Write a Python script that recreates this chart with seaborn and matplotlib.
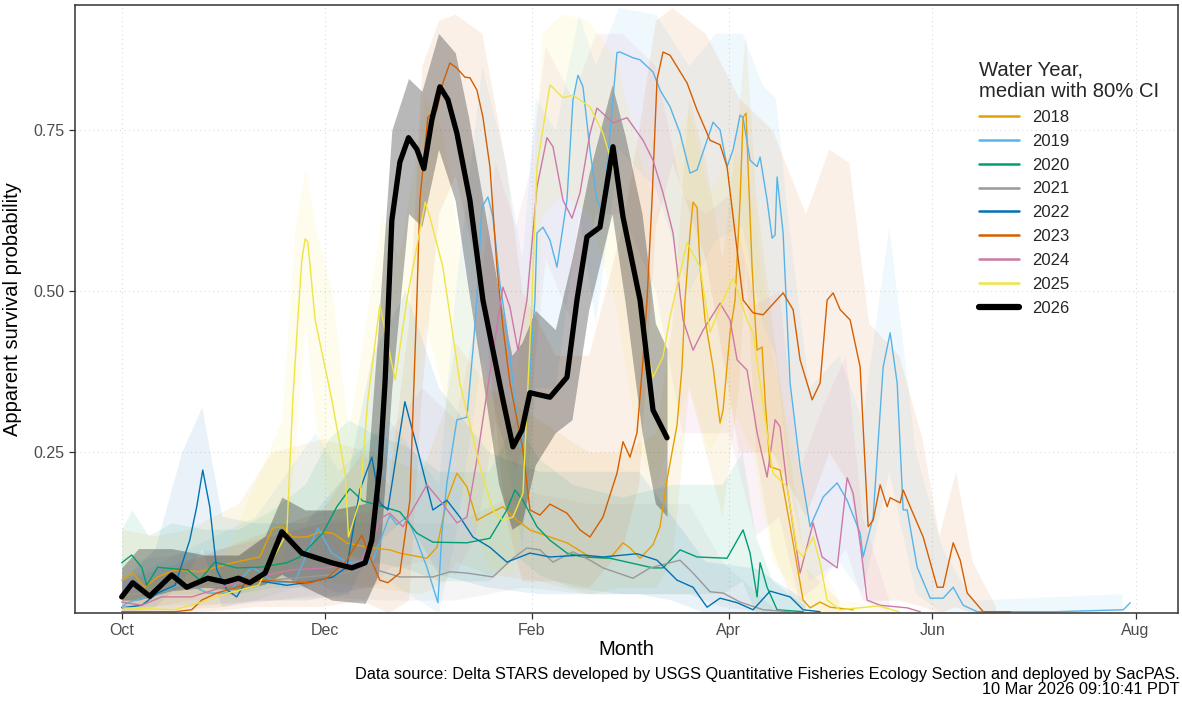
import numpy as np
import pandas as pd
import seaborn as sns
import matplotlib.pyplot as plt

# x = days since 1 Oct (start of the water year), y = apparent survival probability
month_ticks = [0, 61, 123, 182, 243, 304]
month_labels = ["Oct", "Dec", "Feb", "Apr", "Jun", "Aug"]
prob_ticks = [0.25, 0.50, 0.75]
prob_labels = ["0.25", "0.50", "0.75"]

years = ["2018", "2019", "2020", "2021", "2022", "2023", "2024", "2025", "2026"]
palette = ["#E69F00", "#56B4E9", "#009E73", "#999999", "#0072B2",
           "#D55E00", "#CC79A7", "#F0E442", "#000000"]

# ---- medians -------------------------------------------------------------
d2018 = [0, 3.3, 6.9, 10.8, 16, 23.4, 33.3, 41.4, 45.3, 48.3, 51.3, 55.5, 59.4, 63.3, 67.5, 73.8,
         80.4, 83.4, 91.5, 94.5, 97.5, 100.5, 103.5, 106.5, 110.4, 114.3, 118.5, 122.4, 128.4,
         133.5, 140.4, 146.4, 150.3, 152.4, 155.4, 159.3, 161.4, 163.5, 166.5, 168, 168.9, 170.4,
         171.3, 172.5, 173.4, 174.9, 177.3, 179.4, 180.3, 182.4, 183.9, 185.4, 186.3, 187.2,
         187.8, 189, 189.9, 190.5, 192, 192.9, 194.4, 197.4, 201.3, 204.3, 206.4, 209.4, 212.4, 219.3]
m2018 = [0.051, 0.062, 0.040, 0.056, 0.067, 0.064, 0.078, 0.087, 0.132, 0.134, 0.118, 0.118, 0.126,
         0.124, 0.109, 0.102, 0.098, 0.093, 0.085, 0.102, 0.175, 0.217, 0.196, 0.144, 0.155, 0.165,
         0.144, 0.129, 0.118, 0.109, 0.087, 0.085, 0.109, 0.101, 0.085, 0.106, 0.134, 0.207, 0.292,
         0.382, 0.486, 0.590, 0.638, 0.630, 0.537, 0.455, 0.382, 0.295, 0.315, 0.435, 0.486, 0.641,
         0.770, 0.776, 0.693, 0.537, 0.455, 0.408, 0.413, 0.331, 0.227, 0.222, 0.109, 0.020, 0.008,
         0.017, 0.009, 0.005]

d2019 = [0, 1.8, 10.8, 18.9, 25.8, 31.8, 39, 42, 45.9, 51.9, 58.8, 63, 67.8, 75.3, 80.4, 82.5, 85.5,
         88.5, 91.5, 94.8, 96, 97.5, 100.5, 103.5, 105.3, 106.5, 108, 109.8, 111.3, 113.4, 115.5,
         118.5, 119.4, 121.5, 123.9, 124.5, 126.3, 128.4, 130.5, 133.5, 135.3, 136.8, 138.3, 140.4,
         142.5, 144.3, 146.4, 148.5, 149.4, 153.3, 155.4, 159.3, 161.4, 164.4, 167.4, 170.4, 172.5,
         175.5, 177.3, 179.4, 181.5, 183.3, 185.4, 186.3, 188.4, 190.5, 191.4, 193.5, 195, 195.9,
         196.5, 198.3, 199.5, 200.4, 203.4, 206.4, 210.3, 214.5, 217.5, 221.4, 222.3, 225.3, 228.3,
         230.4, 232.5, 234.3, 235.5, 238.5, 242.4, 246.3, 249.3, 252.3, 256.5, 280, 300.3, 302.4]
m2019 = [0.009, 0.016, 0.031, 0.047, 0.031, 0.031, 0.071, 0.062, 0.047, 0.048, 0.132, 0.093, 0.078,
         0.082, 0.152, 0.137, 0.149, 0.113, 0.071, 0.016, 0.124, 0.202, 0.300, 0.304, 0.408, 0.486,
         0.630, 0.646, 0.615, 0.512, 0.439, 0.304, 0.258, 0.304, 0.486, 0.590, 0.599, 0.579, 0.537,
         0.641, 0.797, 0.835, 0.817, 0.719, 0.641, 0.621, 0.745, 0.870, 0.871, 0.862, 0.859, 0.840,
         0.812, 0.786, 0.745, 0.683, 0.688, 0.734, 0.762, 0.750, 0.693, 0.719, 0.773, 0.769, 0.703,
         0.693, 0.708, 0.641, 0.582, 0.587, 0.677, 0.590, 0.455, 0.357, 0.227, 0.134, 0.180, 0.202,
         0.175, 0.124, 0.087, 0.149, 0.382, 0.435, 0.357, 0.160, 0.160, 0.071, 0.023, 0.023, 0.040,
         0.012, 0.002, 0.002, 0.005, 0.016]

d2020 = [0, 3, 6, 7.5, 10.8, 16.8, 19.8, 23.4, 27.9, 34.5, 41.4, 49.5, 53.4, 60.3, 64.5, 68.4, 72.3,
         76.5, 83.4, 88.5, 93.3, 103.5, 110.4, 115.5, 117.9, 120.3, 124.5, 128.4, 133.5, 138.3,
         146.4, 159.3, 162.3, 167.4, 172.5, 181.5, 186.3, 188.4, 190.5, 191.4, 193.5, 196.5, 204.3]
m2020 = [0.078, 0.090, 0.071, 0.043, 0.071, 0.068, 0.067, 0.051, 0.079, 0.070, 0.071, 0.078, 0.087,
         0.124, 0.165, 0.193, 0.174, 0.168, 0.157, 0.124, 0.110, 0.109, 0.116, 0.160, 0.191, 0.175,
         0.134, 0.113, 0.093, 0.087, 0.085, 0.070, 0.070, 0.098, 0.087, 0.085, 0.129, 0.093, 0.025,
         0.078, 0.040, 0.005, 0.002]

d2021 = [0, 11.4, 23.4, 35.4, 44.4, 55.8, 65.4, 74.4, 83.4, 93.3, 98.4, 103.5, 111.3, 117.3, 121.5,
         125.4, 129.3, 135.3, 140.4, 144.3, 153.3, 158.4, 167.4, 171.3, 176.4, 180.3, 185.4, 192.3, 200.4]
m2021 = [0.028, 0.033, 0.039, 0.047, 0.051, 0.056, 0.061, 0.070, 0.056, 0.056, 0.064, 0.062, 0.056,
         0.085, 0.101, 0.098, 0.079, 0.095, 0.082, 0.070, 0.054, 0.070, 0.082, 0.062, 0.033, 0.031,
         0.017, 0.005, 0.002]

d2022 = [0, 6, 10.8, 16, 20.4, 22.5, 24.3, 26.4, 28.5, 31.5, 34.5, 37.5, 43.5, 49.5, 56.4, 63.3,
         67.5, 71.4, 75, 77.4, 79.8, 84.9, 88.5, 93.3, 97.5, 101.4, 105.3, 110.4, 115.5, 122.4,
         128.4, 138.3, 144.3, 154.5, 160.5, 166.5, 171.3, 175.5, 179.4, 184.5, 189.3, 194.4, 200.4,
         204.3, 209.4]
m2022 = [0.008, 0.012, 0.031, 0.043, 0.113, 0.165, 0.222, 0.165, 0.067, 0.036, 0.025, 0.051, 0.048,
         0.043, 0.048, 0.056, 0.071, 0.191, 0.242, 0.171, 0.160, 0.328, 0.258, 0.160, 0.175, 0.149,
         0.118, 0.102, 0.079, 0.093, 0.087, 0.090, 0.087, 0.092, 0.082, 0.051, 0.040, 0.009, 0.023,
         0.016, 0.005, 0.034, 0.025, 0.005, 0.002]

d2023 = [0, 16, 21, 24, 28.5, 34.5, 41.4, 51.3, 56.4, 61.5, 67.5, 72, 74.4, 77.4, 79.8, 83.4, 86.4,
         88.5, 89.4, 91.8, 94.5, 96.3, 98.4, 100.5, 102.9, 104.4, 106.5, 108.3, 110.4, 112.5, 114.3,
         116.4, 120.3, 122.4, 125.4, 128.4, 133.5, 137.4, 140.4, 144.3, 148.5, 150.3, 152.4, 154.5,
         156.3, 157.5, 159, 160.5, 162.3, 164.4, 169.5, 172.5, 176.4, 179.4, 181.5, 184.5, 186.3,
         189.3, 192.3, 198.3, 201.3, 203.4, 207, 209.4, 211.5, 213.3, 215.4, 218.4, 221.4, 223.8,
         225.3, 227.4, 229.5, 230.4, 233.4, 234.3, 236.4, 240.3, 244.5, 246.3, 249.3, 251.4, 253.5,
         258.3, 266.4]
m2023 = [0.002, 0.002, 0.005, 0.020, 0.031, 0.040, 0.051, 0.048, 0.047, 0.054, 0.082, 0.121, 0.087,
         0.051, 0.047, 0.062, 0.175, 0.486, 0.641, 0.770, 0.781, 0.823, 0.854, 0.846, 0.832, 0.831,
         0.812, 0.770, 0.693, 0.537, 0.444, 0.357, 0.253, 0.160, 0.152, 0.169, 0.155, 0.129, 0.118,
         0.149, 0.217, 0.266, 0.242, 0.280, 0.393, 0.486, 0.641, 0.828, 0.871, 0.866, 0.823, 0.781,
         0.734, 0.727, 0.693, 0.564, 0.486, 0.466, 0.463, 0.497, 0.471, 0.393, 0.331, 0.357, 0.486,
         0.497, 0.471, 0.455, 0.382, 0.134, 0.144, 0.199, 0.165, 0.179, 0.171, 0.191, 0.165, 0.118,
         0.040, 0.040, 0.109, 0.082, 0.031, 0.002, 0.002]

d2024 = [0, 6, 12, 21, 32, 41, 51, 61.5, 71.4, 78.3, 80.4, 84.3, 91.5, 95.4, 100.5, 103.5, 106.5,
         110.4, 114.3, 116.4, 118.8, 121.5, 124.5, 127.5, 129.3, 132.3, 135, 137.4, 140.4, 142.5,
         147.3, 151.5, 156.3, 159.3, 162.3, 165.3, 168.3, 171.3, 174.3, 179.4, 182.4, 184.5, 187.5,
         190.5, 193.5, 195.9, 197.4, 199.5, 203.4, 207.3, 210, 214.5, 217.5, 219.3, 221.4, 223.5,
         227.4, 235.5, 239.4]
m2024 = [0.017, 0.012, 0.025, 0.025, 0.043, 0.056, 0.067, 0.070, 0.078, 0.149, 0.155, 0.134, 0.199,
         0.175, 0.140, 0.149, 0.238, 0.373, 0.506, 0.475, 0.408, 0.486, 0.661, 0.738, 0.724, 0.641,
         0.613, 0.652, 0.745, 0.784, 0.761, 0.769, 0.734, 0.703, 0.652, 0.590, 0.455, 0.408, 0.439,
         0.481, 0.455, 0.393, 0.377, 0.280, 0.211, 0.300, 0.289, 0.196, 0.062, 0.140, 0.087, 0.070,
         0.210, 0.186, 0.109, 0.020, 0.012, 0.008, 0.002]

d2025 = [0.3, 16, 24, 32, 41, 49.5, 51.3, 52.8, 54, 55, 55.8, 58, 63, 67, 68, 71.4, 73.8, 77.4, 82,
         85.5, 91, 92.4, 96.3, 101.4, 107.4, 111.3, 114.3, 117.3, 120.3, 123, 124.5, 128.4, 132.3,
         135.3, 140.4, 144.3, 148.5, 153.3, 156.3, 159.3, 162.3, 164.4, 169.5, 173.4, 176.4, 179.4,
         183.3, 187.5, 189.3, 193.5, 195.3, 199.5, 202.5, 204.3, 207.3, 209.4, 211.5, 215.4, 227, 233]
m2025 = [0.008, 0.005, 0.017, 0.031, 0.043, 0.124, 0.331, 0.455, 0.548, 0.581, 0.576, 0.455, 0.331,
         0.217, 0.118, 0.175, 0.331, 0.478, 0.362, 0.486, 0.638, 0.615, 0.537, 0.357, 0.227, 0.160,
         0.144, 0.149, 0.186, 0.486, 0.693, 0.820, 0.800, 0.804, 0.786, 0.745, 0.672, 0.537, 0.435,
         0.366, 0.398, 0.460, 0.575, 0.537, 0.436, 0.475, 0.520, 0.455, 0.435, 0.280, 0.217, 0.196,
         0.098, 0.087, 0.118, 0.078, 0.020, 0.005, 0.011, 0.002]

d2026 = [0, 3.3, 8.4, 15, 19.5, 25.8, 31, 35, 38.4, 43, 48, 54, 63, 69, 73, 75, 77.4, 79, 81, 83.4,
         86, 88.5, 90.6, 93, 95.4, 97.8, 100.5, 104.4, 108.3, 111.3, 114.3, 117.3, 120, 122.4, 128.4,
         133.5, 136.5, 139.5, 143.4, 147.3, 150.3, 155.4, 159.3, 163.5]
m2026 = [0.025, 0.047, 0.026, 0.059, 0.040, 0.054, 0.048, 0.054, 0.047, 0.062, 0.126, 0.093, 0.078,
         0.070, 0.078, 0.113, 0.227, 0.362, 0.610, 0.700, 0.738, 0.720, 0.690, 0.766, 0.817, 0.797,
         0.745, 0.641, 0.486, 0.408, 0.331, 0.258, 0.284, 0.342, 0.335, 0.366, 0.486, 0.584, 0.599,
         0.724, 0.615, 0.486, 0.315, 0.272]

# ---- 80% credible intervals (own, coarser day grids) -----------------------
bd2018 = [0, 10, 20, 35, 45, 60, 75, 90, 97, 100, 110, 125, 140, 150, 160, 165, 170, 175, 180, 185,
          187, 190, 195, 200, 205, 215]
lo2018 = [0.01, 0.01, 0.02, 0.03, 0.05, 0.05, 0.04, 0.03, 0.05, 0.08, 0.06, 0.05, 0.03, 0.04, 0.04,
          0.08, 0.35, 0.25, 0.15, 0.35, 0.55, 0.25, 0.10, 0.03, 0.0, 0.0]
hi2018 = [0.13, 0.12, 0.13, 0.17, 0.25, 0.27, 0.25, 0.22, 0.32, 0.42, 0.35, 0.30, 0.25, 0.25, 0.28,
          0.45, 0.80, 0.70, 0.55, 0.78, 0.90, 0.65, 0.45, 0.25, 0.07, 0.02]

bd2019 = [0, 20, 40, 58, 65, 80, 95, 100, 108, 115, 120, 124, 130, 137, 142, 149, 160, 170, 178, 186,
          192, 196, 200, 206, 215, 222, 230, 238, 246, 255, 300]
lo2019 = [0.0, 0.01, 0.02, 0.05, 0.03, 0.05, 0.0, 0.12, 0.40, 0.25, 0.10, 0.35, 0.35, 0.62, 0.45,
          0.72, 0.66, 0.50, 0.58, 0.60, 0.45, 0.40, 0.20, 0.05, 0.08, 0.03, 0.22, 0.03, 0.0, 0.0, 0.0]
hi2019 = [0.05, 0.10, 0.15, 0.28, 0.22, 0.30, 0.20, 0.50, 0.85, 0.70, 0.55, 0.80, 0.75, 0.93, 0.85,
          0.94, 0.93, 0.85, 0.90, 0.90, 0.82, 0.80, 0.60, 0.35, 0.40, 0.30, 0.60, 0.25, 0.10, 0.02, 0.03]

bd2020 = [0, 3, 8, 15, 25, 35, 45, 55, 62, 68, 75, 85, 95, 110, 118, 125, 135, 150, 165, 180, 186,
          190, 195, 205]
lo2020 = [0.03, 0.04, 0.02, 0.03, 0.03, 0.03, 0.04, 0.04, 0.06, 0.09, 0.08, 0.07, 0.05, 0.05, 0.09,
          0.06, 0.04, 0.03, 0.03, 0.03, 0.05, 0.0, 0.0, 0.0]
hi2020 = [0.13, 0.16, 0.12, 0.14, 0.13, 0.13, 0.16, 0.20, 0.27, 0.30, 0.28, 0.26, 0.22, 0.22, 0.30,
          0.24, 0.20, 0.18, 0.20, 0.20, 0.25, 0.12, 0.05, 0.01]

bd2021 = [0, 30, 60, 80, 100, 120, 140, 160, 170, 180, 195]
lo2021 = [0.01, 0.015, 0.025, 0.02, 0.02, 0.04, 0.03, 0.03, 0.03, 0.01, 0.0]
hi2021 = [0.08, 0.10, 0.14, 0.14, 0.14, 0.19, 0.17, 0.17, 0.17, 0.08, 0.01]

bd2022 = [0, 10, 18, 24, 30, 40, 55, 68, 75, 85, 95, 110, 125, 140, 155, 165, 175, 190, 205]
lo2022 = [0.0, 0.01, 0.05, 0.10, 0.01, 0.02, 0.02, 0.03, 0.10, 0.15, 0.06, 0.04, 0.03, 0.03, 0.03,
          0.02, 0.0, 0.0, 0.0]
hi2022 = [0.05, 0.10, 0.25, 0.32, 0.15, 0.14, 0.14, 0.22, 0.40, 0.50, 0.35, 0.25, 0.22, 0.22, 0.22,
          0.15, 0.08, 0.07, 0.02]

bd2023 = [0, 20, 40, 60, 72, 80, 86, 90, 95, 100, 108, 115, 120, 130, 140, 150, 155, 160, 165, 175,
          185, 195, 205, 212, 218, 224, 233, 240, 245, 250, 255, 262]
lo2023 = [0.0, 0.0, 0.01, 0.01, 0.02, 0.0, 0.02, 0.35, 0.62, 0.68, 0.50, 0.15, 0.05, 0.05, 0.04,
          0.10, 0.20, 0.60, 0.70, 0.55, 0.25, 0.25, 0.15, 0.25, 0.20, 0.02, 0.02, 0.01, 0.0, 0.01,
          0.0, 0.0]
hi2023 = [0.03, 0.08, 0.12, 0.16, 0.25, 0.20, 0.45, 0.85, 0.92, 0.93, 0.90, 0.70, 0.50, 0.40, 0.40,
          0.60, 0.75, 0.92, 0.94, 0.90, 0.80, 0.75, 0.62, 0.72, 0.70, 0.45, 0.40, 0.27, 0.12, 0.22,
          0.08, 0.01]

bd2024 = [0, 30, 60, 75, 80, 90, 100, 106, 112, 118, 122, 127, 135, 142, 150, 160, 168, 175, 182,
          190, 197, 203, 210, 217, 222, 230]
lo2024 = [0.0, 0.01, 0.03, 0.04, 0.07, 0.08, 0.06, 0.12, 0.30, 0.22, 0.30, 0.55, 0.45, 0.62, 0.62,
          0.50, 0.28, 0.28, 0.28, 0.12, 0.15, 0.02, 0.05, 0.10, 0.02, 0.0]
hi2024 = [0.05, 0.10, 0.14, 0.16, 0.28, 0.35, 0.30, 0.45, 0.70, 0.60, 0.68, 0.88, 0.80, 0.90, 0.90,
          0.85, 0.65, 0.62, 0.65, 0.48, 0.50, 0.22, 0.32, 0.40, 0.15, 0.02]

bd2025 = [0, 30, 48, 52, 55, 58, 63, 68, 74, 78, 83, 91, 96, 102, 110, 117, 122, 126, 132, 140, 148,
          155, 160, 165, 170, 176, 183, 189, 195, 203, 210, 215, 230]
lo2025 = [0.0, 0.01, 0.04, 0.25, 0.45, 0.30, 0.15, 0.05, 0.15, 0.32, 0.20, 0.45, 0.35, 0.18, 0.07,
          0.06, 0.20, 0.62, 0.65, 0.62, 0.48, 0.25, 0.20, 0.28, 0.35, 0.25, 0.32, 0.25, 0.08, 0.03,
          0.0, 0.0, 0.0]
hi2025 = [0.03, 0.08, 0.30, 0.60, 0.69, 0.60, 0.50, 0.28, 0.48, 0.62, 0.55, 0.80, 0.75, 0.55, 0.35,
          0.30, 0.55, 0.90, 0.93, 0.92, 0.86, 0.72, 0.62, 0.70, 0.78, 0.65, 0.72, 0.65, 0.40, 0.22,
          0.07, 0.02, 0.01]

bd2026 = [0, 5, 15, 25, 35, 43, 48, 55, 63, 73, 77, 81, 86, 90, 95, 100, 104, 108, 113, 117, 120,
          124, 130, 135, 140, 147, 151, 156, 160, 163.5]
lo2026 = [0.02, 0.02, 0.035, 0.04, 0.035, 0.045, 0.06, 0.04, 0.02, 0.015, 0.06, 0.35, 0.62, 0.60,
          0.72, 0.64, 0.50, 0.37, 0.20, 0.13, 0.14, 0.23, 0.28, 0.30, 0.47, 0.62, 0.48, 0.28, 0.17, 0.15]
hi2026 = [0.07, 0.10, 0.10, 0.09, 0.09, 0.12, 0.18, 0.16, 0.16, 0.17, 0.45, 0.75, 0.83, 0.81, 0.90,
          0.87, 0.77, 0.65, 0.50, 0.40, 0.42, 0.47, 0.44, 0.55, 0.68, 0.82, 0.74, 0.62, 0.45, 0.41]

medians = dict(zip(years, [(d2018, m2018), (d2019, m2019), (d2020, m2020), (d2021, m2021),
                           (d2022, m2022), (d2023, m2023), (d2024, m2024), (d2025, m2025),
                           (d2026, m2026)]))
bands = dict(zip(years, [(bd2018, lo2018, hi2018), (bd2019, lo2019, hi2019), (bd2020, lo2020, hi2020),
                         (bd2021, lo2021, hi2021), (bd2022, lo2022, hi2022), (bd2023, lo2023, hi2023),
                         (bd2024, lo2024, hi2024), (bd2025, lo2025, hi2025), (bd2026, lo2026, hi2026)]))
colors = dict(zip(years, palette))

sns.set_theme(style="white")
plt.rcParams["font.family"] = ["Liberation Sans", "DejaVu Sans"]

fig = plt.figure(figsize=(11.82, 7.04), dpi=100)
ax = fig.add_axes([75 / 1182, 1 - 613 / 704, 1103 / 1182, 608 / 704])

# ribbons first, then the medians on top
for yr in years:
    bd, lo, hi = bands[yr]
    alpha = 0.28 if yr == "2026" else 0.09
    ax.fill_between(bd, lo, hi, color=colors[yr], alpha=alpha, linewidth=0, zorder=1)

for yr in years:
    d, m = medians[yr]
    lw = 3.8 if yr == "2026" else 1.0
    sns.lineplot(x=d, y=m, color=colors[yr], linewidth=lw, ax=ax, label=yr,
                 zorder=3 if yr == "2026" else 2, sort=False)

ax.set_xlim(-14, 316.7)
ax.set_ylim(0.0, 0.944)
ax.set_xticks(month_ticks)
ax.set_xticklabels(month_labels)
ax.set_yticks(prob_ticks)
ax.set_yticklabels(prob_labels)
ax.grid(True, color="#dcdcdc", linestyle=(0, (1, 3)), linewidth=0.8)
ax.set_axisbelow(True)
for sp in ax.spines.values():
    sp.set_visible(True)
    sp.set_color("#333333")
    sp.set_linewidth(1.1)
ax.tick_params(axis="both", which="major", direction="out", length=4, width=0.9,
               color="#333333", labelcolor="#4d4d4d", labelsize=11.5, bottom=True, left=True)
ax.set_xlabel("Month", fontsize=14.5, color="black", labelpad=1)
ax.set_ylabel("Apparent survival probability", fontsize=14.5, color="black", labelpad=8)

leg = ax.legend(title="Water Year,\nmedian with 80% CI", loc="upper left",
                bbox_to_anchor=(0.806, 0.934), frameon=False, fontsize=12, title_fontsize=14.6,
                alignment="left", handlelength=2.4, labelspacing=0.53, handletextpad=0.8)
for h in leg.get_lines():
    h.set_linewidth(4.5 if h.get_color() == "#000000" else 1.8)

fig.text(1180 / 1182, 1 - 675 / 704,
         "Data source: Delta STARS developed by USGS Quantitative Fisheries Ecology Section and deployed by SacPAS.",
         ha="right", va="center", fontsize=11.8, color="black")
fig.text(1180 / 1182, 1 - 690 / 704, "10 Mar 2026 09:10:41 PDT",
         ha="right", va="center", fontsize=11.8, color="black")

fig.savefig("out.png", dpi=100)
